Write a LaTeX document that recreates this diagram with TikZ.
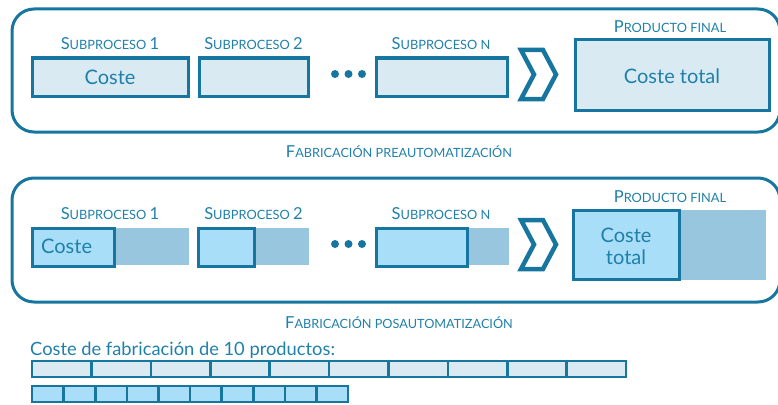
\documentclass[tikz,border=0pt]{standalone}
\usepackage{fontspec}
\setmainfont{Lato}
\definecolor{dk}{HTML}{1776A0}
\definecolor{tx}{HTML}{1F80AA}
\definecolor{lt}{HTML}{D9EAF3}
\definecolor{lb}{HTML}{A8DEF7}
\definecolor{gb}{HTML}{97C6DE}
\newcommand\bsz{\fontsize{16.5}{18}\selectfont}
\newcommand\ssz{\fontsize{12.8}{14}\selectfont}
\newcommand\cbsz{\fontsize{16.5}{18}\selectfont}
\newcommand\cssz{\fontsize{12.7}{14}\selectfont}
\tikzset{
  outer/.style={draw=dk, line width=3pt, rounded corners=22pt},
  pbox/.style={draw=dk, line width=3pt, fill=lt},
  qbox/.style={draw=dk, line width=3pt, fill=lb},
  bar/.style={fill=gb, draw=none},
  lbl/.style={text=tx, inner sep=0pt},
  chev/.style={draw=dk, line width=4.5pt, miter limit=10},
  dot/.style={fill=dk, draw=none},
  cell1/.style={draw=dk, line width=2.6pt, fill=lt},
  cell2/.style={draw=dk, line width=2.6pt, fill=lb},
}
\begin{document}
\begin{tikzpicture}[x=1pt,y=-1pt]
\useasboundingbox (0,0) rectangle (778,404);
\clip (0,0) rectangle (778,404);
% ---------- top panel ----------
\draw[outer] (12,9) rectangle (780,132);
\draw[pbox] (32,58) rectangle (188,96);
\node[lbl, font=\fontsize{20}{22}\selectfont] (c1) at (110,77) {Coste};
\draw[pbox] (199,58) rectangle (308,96);
\draw[pbox] (376,58) rectangle (507,96);
\node[lbl] (s1) at (110,44) {\bsz S\ssz UBPROCESO \bsz 1};
\node[lbl] (s2) at (253.5,44) {\bsz S\ssz UBPROCESO \bsz 2};
\node[lbl] (sn) at (441,44) {\bsz S\ssz UBPROCESO N};
\fill[dot] (335,74) circle (4) (348.5,74) circle (4) (362,74) circle (4);
\draw[chev] (521,50) -- (543,50) -- (556,74.5) -- (543,99) -- (521,99) -- (534,74.5) -- cycle;
\draw[pbox] (575,40) rectangle (769,110);
\node[lbl, font=\fontsize{20}{22}\selectfont] (ct) at (672,76) {Coste total};
\node[lbl] (pf) at (670,27) {\bsz P\ssz RODUCTO FINAL};
\node[lbl] (cap1) at (399,152) {\cbsz F\cssz ABRICACIÓN PREAUTOMATIZACIÓN};
% ---------- bottom panel ----------
\draw[outer] (12,178) rectangle (780,302);
\fill[bar] (32,228) rectangle (189,265);
\draw[qbox] (32,228) rectangle (114,266);
\node[lbl, anchor=west, font=\fontsize{20}{22}\selectfont] (c2) at (41,246) {Coste};
\fill[bar] (198,228) rectangle (309,265);
\draw[qbox] (198,228) rectangle (254,266);
\fill[bar] (376,228) rectangle (509,265);
\draw[qbox] (376,228) rectangle (467,266);
\node[lbl] (t1) at (110,214) {\bsz S\ssz UBPROCESO \bsz 1};
\node[lbl] (t2) at (253.5,214) {\bsz S\ssz UBPROCESO \bsz 2};
\node[lbl] (tn) at (441,214) {\bsz S\ssz UBPROCESO N};
\fill[dot] (335,244) circle (4) (348.5,244) circle (4) (362,244) circle (4);
\draw[chev] (521,220) -- (543,220) -- (556,244.5) -- (543,269) -- (521,269) -- (534,244.5) -- cycle;
\fill[bar] (573,210) rectangle (766,280);
\draw[qbox] (573,210) rectangle (679,279);
\node[lbl, font=\fontsize{20}{22}\selectfont, align=center] (ct2) at (626,246) {Coste\\[0pt]total};
\node[lbl] (pf2) at (670,197) {\bsz P\ssz RODUCTO FINAL};
\node[lbl] (cap2) at (399,323) {\cbsz F\cssz ABRICACIÓN POSAUTOMATIZACIÓN};
% ---------- bottom bars ----------
\node[lbl, anchor=west, font=\fontsize{18.3}{20}\selectfont] (ct10) at (30,350) {Coste de fabricación de 10 productos:};
\foreach \i in {0,...,9} {
  \draw[cell1] ({32+\i*59.4},361) rectangle ({32+(\i+1)*59.4},377);
  \draw[cell2] ({32+\i*31.6},386) rectangle ({32+(\i+1)*31.6},402);
}
\end{tikzpicture}
\end{document}
